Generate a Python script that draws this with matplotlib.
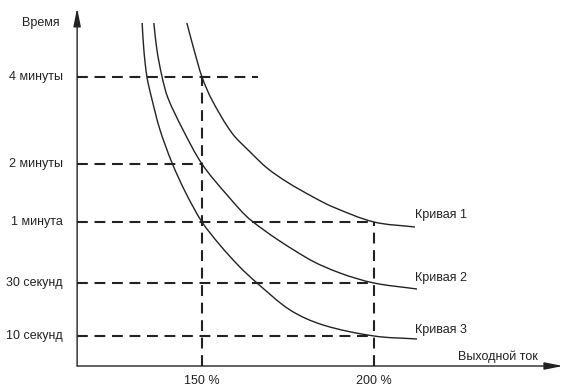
import matplotlib
matplotlib.use("Agg")
import matplotlib.pyplot as plt
from matplotlib.path import Path
from matplotlib.patches import PathPatch
import numpy as np

plt.rcParams['font.family'] = ['Liberation Sans', 'DejaVu Sans']

# ─── Data (x = output current, %; y = schematic time level) ─────────
time_labels = ["10 секунд", "30 секунд", "1 минута", "2 минуты", "4 минуты"]
time_levels = [30, 83, 144, 202, 289]
time_line_end = [200, 200, 200, 150, 166.3]   # where each dashed guide stops

current_ticks = [150, 200]
current_labels = ["150 %", "200 %"]
current_line_top = [289, 144]                 # top of vertical dashed guides

curve1_x = [145.6, 147.7, 150.0, 152.9, 158.7, 164.0, 168.9, 174.7, 182.3, 188.1, 200.0, 211.9]
curve1_y = [343, 316, 289, 266, 233, 214, 198, 184, 169, 159, 144, 139]

curve2_x = [136.0, 136.9, 138.4, 140.1, 144.5, 150.0, 157.3, 164.5, 180.5, 190.1, 200.0, 212.5]
curve2_y = [343, 316, 289, 268, 236, 202, 171, 145, 108, 93, 83, 77]

curve3_x = [132.6, 133.1, 134.0, 135.5, 137.8, 141.3, 145.3, 150.0, 155.2, 161.0, 166.0, 175.6, 185.2, 200.0, 212.5]
curve3_y = [343, 316, 289, 266, 236, 203, 173, 144, 121, 99, 83, 56, 41, 30, 27]

curve_names = ["Кривая 1", "Кривая 2", "Кривая 3"]
curve_label_y = [151, 88, 36]

X0, X1 = 113.7, 254.9     # axis origin / arrow tip (x)
Y0, Y1 = 0, 358           # axis origin / arrow tip (y)
XLIM = (91.28, 255.52)
YLIM = (-21, 366)

INK = "#222222"
FS = 9
W_PX, H_PX = 565, 387


def smooth_path(xs, ys):
    """Chordal Catmull-Rom through the read points, as cubic Bezier segments."""
    p = np.column_stack([xs, ys]).astype(float)
    scale = np.array([W_PX / (XLIM[1] - XLIM[0]), H_PX / (YLIM[1] - YLIM[0])])
    seg = np.hypot(*((np.diff(p, axis=0) * scale).T))
    t = np.concatenate([[0], np.cumsum(seg)])
    m = np.zeros_like(p)
    m[0] = (p[1] - p[0]) / (t[1] - t[0])
    m[-1] = (p[-1] - p[-2]) / (t[-1] - t[-2])
    for i in range(1, len(p) - 1):
        m[i] = (p[i + 1] - p[i - 1]) / (t[i + 1] - t[i - 1])
    verts, codes = [p[0]], [Path.MOVETO]
    for i in range(len(p) - 1):
        dt = t[i + 1] - t[i]
        verts += [p[i] + m[i] * dt / 3, p[i + 1] - m[i + 1] * dt / 3, p[i + 1]]
        codes += [Path.CURVE4] * 3
    return Path(verts, codes)


fig = plt.figure(figsize=(W_PX / 100, H_PX / 100), dpi=100)
ax = fig.add_axes([0, 0, 1, 1])
ax.set_xlim(*XLIM)
ax.set_ylim(*YLIM)
ax.axis("off")

dash_kw = dict(color=INK, linewidth=1.5, dashes=(5.2, 3.2))

# dashed guides
for lvl, xe, lab in zip(time_levels, time_line_end, time_labels):
    ax.plot([X0, xe], [lvl, lvl], **dash_kw)
    ax.text(109.6, lvl, lab, ha="right", va="center", fontsize=FS, color=INK)
for xt, yt, lab in zip(current_ticks, current_line_top, current_labels):
    ax.plot([xt, xt], [Y0, yt], **dash_kw)
    ax.text(xt, -15, lab, ha="center", va="center", fontsize=FS, color=INK)

# curves
for cx, cy in [(curve1_x, curve1_y), (curve2_x, curve2_y), (curve3_x, curve3_y)]:
    ax.add_patch(PathPatch(smooth_path(cx, cy), facecolor="none",
                           edgecolor=INK, linewidth=1.0))
for name, ly in zip(curve_names, curve_label_y):
    ax.text(211.9, ly, name, ha="left", va="center", fontsize=FS, color=INK)

# axes with arrows
arrow_kw = dict(arrowstyle="-|>,head_length=1.1,head_width=0.22", color=INK,
                linewidth=1.0, shrinkA=0, shrinkB=0)
ax.annotate("", xy=(X0, Y1), xytext=(X0, Y0), arrowprops=arrow_kw)
ax.annotate("", xy=(X1, Y0), xytext=(X0, Y0), arrowprops=arrow_kw)
ax.text(108.7, 343, "Время", ha="right", va="center", fontsize=FS, color=INK)
ax.text(247.7, 9, "Выходной ток", ha="right", va="center", fontsize=FS, color=INK)

fig.savefig("out.png", dpi=100)
